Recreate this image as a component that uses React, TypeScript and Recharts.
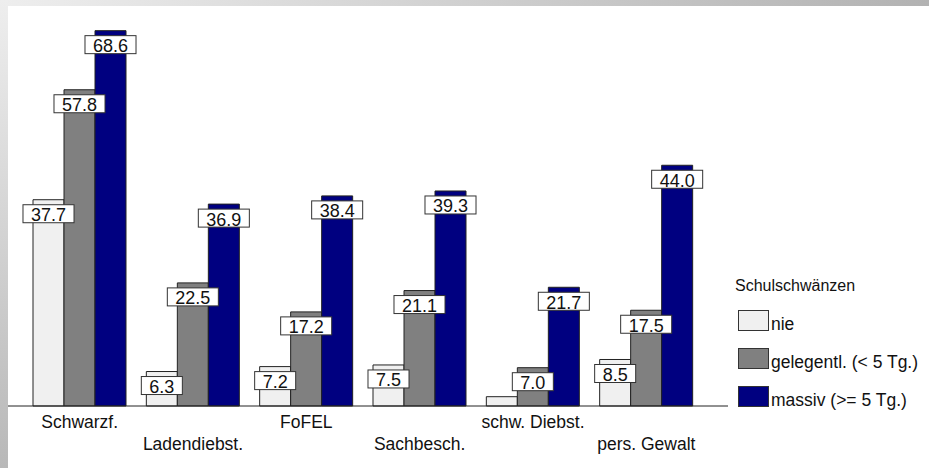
import React from 'react';
import { BarChart, Bar, XAxis, YAxis, Legend, LabelList } from 'recharts';

const categories = ['Schwarzf.', 'Ladendiebst.', 'FoFEL', 'Sachbesch.', 'schw. Diebst.', 'pers. Gewalt'];
const nie = [37.7, 6.3, 7.2, 7.5, 1.7, 8.5];
const gelegentlich = [57.8, 22.5, 17.2, 21.1, 7.0, 17.5];
const massiv = [68.6, 36.9, 38.4, 39.3, 21.7, 44.0];

const seriesNames = ['nie', 'gelegentl. (< 5 Tg.)', 'massiv (>= 5 Tg.)'];
const seriesColors = ['#f0f0f0', '#808080', '#000080'];
const legendTitle = 'Schulschwänzen';

const FONT = '"Liberation Sans", Arial, sans-serif';

const data = categories.map((name, i) => ({
  name,
  nie: nie[i],
  gel: gelegentlich[i],
  massiv: massiv[i],
}));

// rough Arial widths, good enough to size the label boxes
const textWidth = (s: string, size: number) => {
  let w = 0;
  for (const ch of s) w += ch === '.' ? 0.278 : 0.556;
  return w * size;
};

const ValueLabel = (props: any) => {
  const { x, y, width, value } = props;
  if (value == null || value < 3) return null;
  const txt = Number(value).toFixed(1);
  const boxW = textWidth(txt, 18) + 16;
  const cx = x + width / 2;
  const top = y + 5;
  return (
    <g>
      <rect x={cx - boxW / 2} y={top} width={boxW} height={18} fill="#ffffff" stroke="#333333" strokeWidth={1} />
      <text x={cx} y={top + 16.5} textAnchor="middle" fontSize={18} fontFamily={FONT} fill="#111111">
        {txt}
      </text>
    </g>
  );
};

const CategoryTick = (props: any) => {
  const { x, y, payload, index } = props;
  return (
    <text x={x} y={y + (index % 2 === 0 ? 22 : 44)} textAnchor="middle" fontSize={17.5} fontFamily={FONT} fill="#111111">
      {payload.value}
    </text>
  );
};

const renderLegend = () => (
  <svg width={194} height={150} style={{ display: 'block' }}>
    <text x={0} y={21} fontSize={16} fontFamily={FONT} fill="#111111">{legendTitle}</text>
    {seriesNames.map((n, i) => (
      <g key={n}>
        <rect x={3.5} y={40.5 + i * 38} width={30} height={20} fill={seriesColors[i]} stroke="#333333" />
        <text x={36} y={60 + i * 38} fontSize={17.5} fontFamily={FONT} fill="#111111">{n}</text>
      </g>
    ))}
  </svg>
);

export default function App() {
  return (
    <div style={{ position: 'absolute', left: 0, top: 0, width: 929, height: 468, background: '#ffffff', overflow: 'hidden' }}>
      <div style={{ position: 'absolute', left: 0, top: 0, width: 929, height: 6, background: 'linear-gradient(to right, #eeeeee, #b2b2b2)' }} />
      <div style={{ position: 'absolute', left: 0, top: 0, width: 8, height: 468, background: 'linear-gradient(to bottom, #eeeeee, #b8b8b8)' }} />
      <div style={{ position: 'absolute', left: 0, top: 0 }}>
        <BarChart
          width={929}
          height={468}
          data={data}
          margin={{ top: 23, right: 201, left: 8, bottom: 0 }}
          barGap={0}
        >
          <XAxis
            dataKey="name"
            height={62}
            padding={{ left: 15, right: 25 }}
            tickLine={false}
            tickSize={0}
            tickMargin={0}
            axisLine={{ stroke: '#222222', strokeWidth: 1 }}
            tick={<CategoryTick />}
            interval={0}
          />
          <YAxis hide domain={[0, 70]} />
          <Legend
            layout="vertical"
            align="center"
            verticalAlign="middle"
            content={renderLegend}
            wrapperStyle={{ left: 735, top: 270, width: 194 }}
          />
          <Bar dataKey="nie" name={seriesNames[0]} fill={seriesColors[0]} stroke="#222222" strokeWidth={1} barSize={31} isAnimationActive={false}>
            <LabelList dataKey="nie" content={<ValueLabel />} />
          </Bar>
          <Bar dataKey="gel" name={seriesNames[1]} fill={seriesColors[1]} stroke="#222222" strokeWidth={1} barSize={31} isAnimationActive={false}>
            <LabelList dataKey="gel" content={<ValueLabel />} />
          </Bar>
          <Bar dataKey="massiv" name={seriesNames[2]} fill={seriesColors[2]} stroke="#222222" strokeWidth={1} barSize={31} isAnimationActive={false}>
            <LabelList dataKey="massiv" content={<ValueLabel />} />
          </Bar>
        </BarChart>
      </div>
    </div>
  );
}
